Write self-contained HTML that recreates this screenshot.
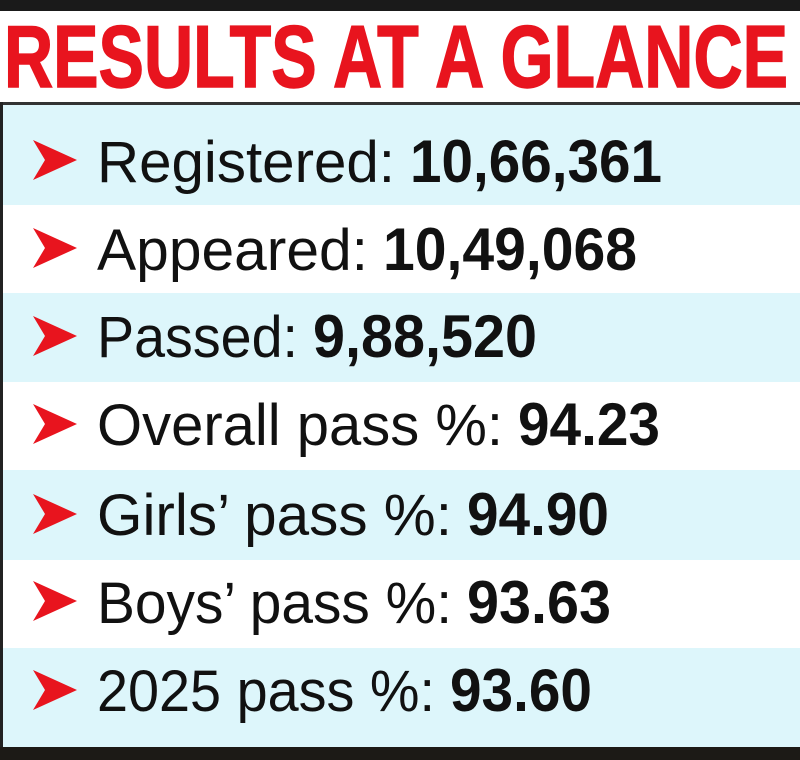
<!DOCTYPE html>
<html><head><meta charset="utf-8"><style>html,body{margin:0;padding:0;background:#fff}svg{display:block}</style></head>
<body>
<svg width="800" height="760" viewBox="0 0 800 760" xmlns="http://www.w3.org/2000/svg">
<rect x="0" y="0" width="800" height="760" fill="#fff"/>
<rect x="0" y="0" width="800" height="11" fill="#1a1a1a"/>
<text x="4" y="87" font-family="Liberation Sans, sans-serif" font-weight="bold" font-size="88" fill="#e8141e" stroke="#e8141e" stroke-width="1.5" textLength="784" lengthAdjust="spacingAndGlyphs">RESULTS AT A GLANCE</text>
<rect x="0" y="205" width="800" height="88" fill="#fff"/>
<rect x="0" y="105" width="800" height="100" fill="#ddf6fb"/>
<rect x="0" y="293" width="800" height="89" fill="#ddf6fb"/>
<rect x="0" y="470" width="800" height="90" fill="#ddf6fb"/>
<rect x="0" y="648" width="800" height="99" fill="#ddf6fb"/>
<rect x="0" y="102" width="800" height="3" fill="#333"/>
<rect x="0" y="102" width="3" height="650" fill="#222"/>
<rect x="0" y="747" width="800" height="13" fill="#1c1a16"/>
<g fill="#e8141e">
<polygon points="33,140 77,160 33,180 45,160"/>
<polygon points="33,228 77,248 33,268 45,248"/>
<polygon points="33,316 77,336 33,356 45,336"/>
<polygon points="33,404 77,424 33,444 45,424"/>
<polygon points="33,494 77,514 33,534 45,514"/>
<polygon points="33,581 77,601 33,621 45,601"/>
<polygon points="33,670 77,690 33,710 45,690"/>
</g>
<g font-family="Liberation Sans, sans-serif" font-size="58" fill="#111">
<text x="97" y="182" textLength="298" lengthAdjust="spacingAndGlyphs">Registered:</text>
<text x="97" y="270" textLength="271" lengthAdjust="spacingAndGlyphs">Appeared:</text>
<text x="97" y="357" textLength="201" lengthAdjust="spacingAndGlyphs">Passed:</text>
<text x="97" y="445" textLength="406" lengthAdjust="spacingAndGlyphs">Overall pass %:</text>
<text x="97" y="535" textLength="355" lengthAdjust="spacingAndGlyphs">Girls’ pass %:</text>
<text x="97" y="623" textLength="355" lengthAdjust="spacingAndGlyphs">Boys’ pass %:</text>
<text x="97" y="711" textLength="338" lengthAdjust="spacingAndGlyphs">2025 pass %:</text>
</g>
<g font-family="Liberation Sans, sans-serif" font-weight="bold" font-size="60" fill="#111">
<text x="410" y="182" textLength="252" lengthAdjust="spacingAndGlyphs">10,66,361</text>
<text x="383" y="270" textLength="254" lengthAdjust="spacingAndGlyphs">10,49,068</text>
<text x="313" y="357" textLength="224" lengthAdjust="spacingAndGlyphs">9,88,520</text>
<text x="518" y="445" textLength="142" lengthAdjust="spacingAndGlyphs">94.23</text>
<text x="467" y="535" textLength="142" lengthAdjust="spacingAndGlyphs">94.90</text>
<text x="467" y="623" textLength="144" lengthAdjust="spacingAndGlyphs">93.63</text>
<text x="450" y="711" textLength="142" lengthAdjust="spacingAndGlyphs">93.60</text>
</g>
</svg>
</body></html>
